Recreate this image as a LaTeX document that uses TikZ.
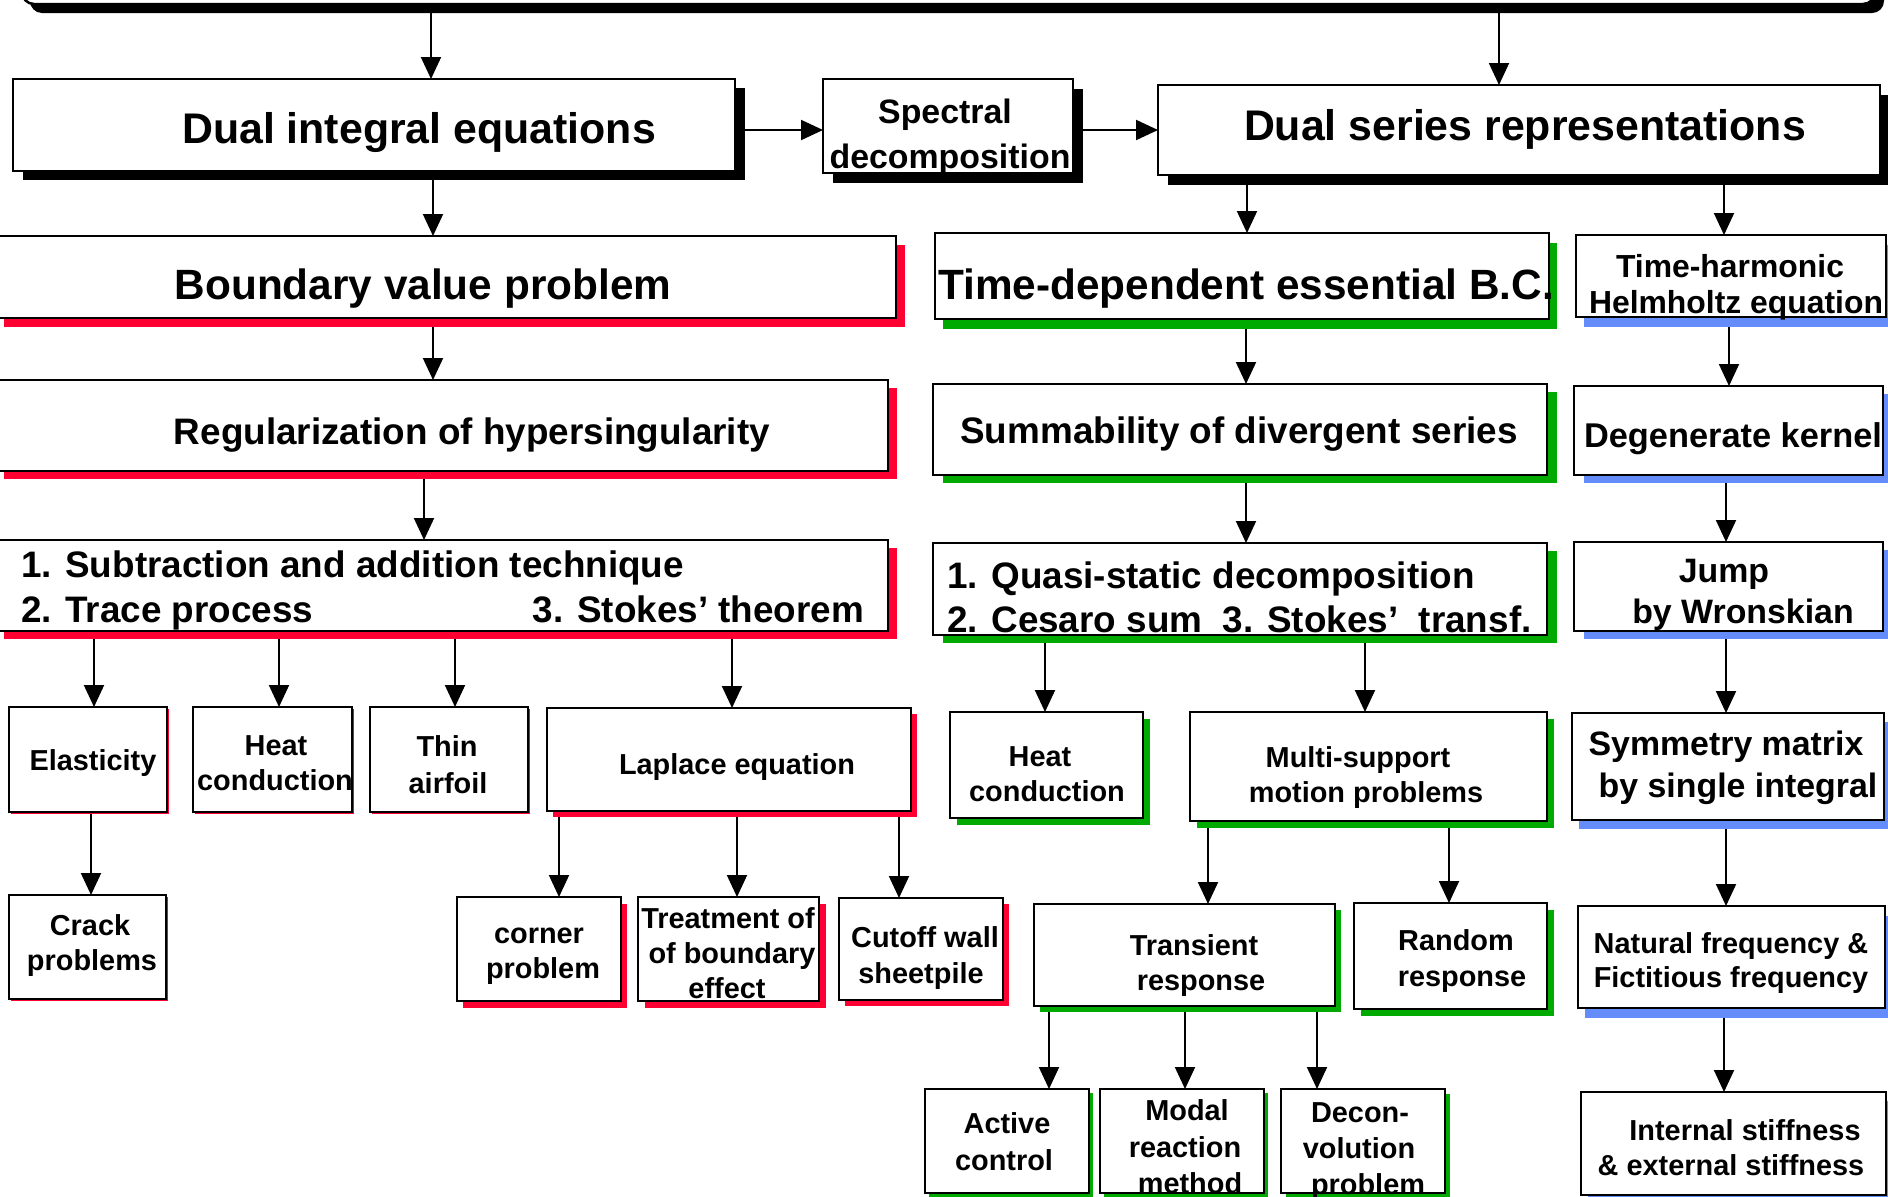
\documentclass[tikz,border=0pt]{standalone}
\usepackage{fontspec}
\setmainfont{Liberation Sans}
\usetikzlibrary{arrows.meta}
\pgfdeclarelayer{arrowlayer}
\pgfdeclarelayer{shadowlayer}
\pgfsetlayers{arrowlayer,shadowlayer,main}
\definecolor{shred}{RGB}{255,0,51}
\definecolor{shgreen}{RGB}{0,170,0}
\definecolor{shblue}{RGB}{100,140,250}
\newcommand\fsz[1]{\fontsize{#1}{#1}\selectfont\bfseries}
\newcommand\mkbox[8]{%
  \begin{pgfonlayer}{shadowlayer}
    \fill[#6] ({#2+#7},{#3+#8}) rectangle ({#4+#7},{#5+#8});
  \end{pgfonlayer}
  \node[box, minimum width={(#4-(#2))*1bp}, minimum height={(#5-(#3))*1bp}] (#1) at ({(#2+#4)/2},{(#3+#5)/2}) {};
}
\tikzset{
  box/.style={rectangle, draw=black, fill=white, line width=2.5bp, inner sep=0pt, outer sep=0pt},
  txt/.style={inner sep=0pt, outer sep=0pt, anchor=base},
  arr/.style={line width=2bp, -{Triangle[length=22bp,width=20bp]}},
}
\begin{document}
\begin{tikzpicture}[x=1bp,y=-1bp]
\useasboundingbox (0,0) rectangle (1888,1196);
% top bar
\begin{pgfonlayer}{shadowlayer}
  \fill[black, rounded corners=12bp] (30,-50) rectangle (1884,13);
\end{pgfonlayer}
\node[box, rounded corners=12bp, minimum width=1853bp, minimum height=55bp] (top) at (948.5,-23.5) {};
% boxes
\mkbox{die}{13}{79}{735}{171}{black}{10}{9}
\mkbox{spec}{823}{79}{1073}{173}{black}{10}{10}
\mkbox{dsr}{1158}{85}{1880}{175}{black}{10}{10}
\mkbox{bvp}{-5}{236}{896}{318}{shred}{9}{9}
\mkbox{reg}{-5}{380}{888}{471}{shred}{9}{8}
\mkbox{sub}{-5}{540}{888}{631}{shred}{9}{8}
\mkbox{td}{935}{233}{1549}{319}{shgreen}{8}{10}
\mkbox{helm}{1576}{235}{1886}{317}{shblue}{8}{10}
\mkbox{summ}{933}{384}{1547}{475}{shgreen}{10}{8}
\mkbox{degen}{1574}{386}{1883}{475}{shblue}{10}{8}
\mkbox{quasi}{933}{543}{1547}{635}{shgreen}{10}{8}
\mkbox{jump}{1574}{542}{1883}{631}{shblue}{10}{8}
\mkbox{elas}{9}{707}{167}{812}{shred}{2}{2}
\mkbox{heatL}{193}{707}{352}{812}{shred}{2}{2}
\mkbox{thin}{370}{707}{528}{812}{shred}{2}{2}
\mkbox{lap}{547}{708}{911}{811}{shred}{6}{6}
\mkbox{crack}{9}{895}{166}{999}{shred}{2}{2}
\mkbox{corner}{457}{897}{621}{1001}{shred}{6}{7}
\mkbox{treat}{638}{897}{819}{1001}{shred}{7}{7}
\mkbox{cutoff}{839}{898}{1003}{1000}{shred}{6}{6}
\mkbox{heatR}{950}{712}{1143}{818}{shgreen}{7}{7}
\mkbox{multi}{1190}{712}{1547}{821}{shgreen}{7}{7}
\mkbox{sym}{1572}{713}{1884}{820}{shblue}{7}{9}
\mkbox{trans}{1034}{904}{1335}{1006}{shgreen}{6}{6}
\mkbox{random}{1354}{903}{1547}{1009}{shgreen}{7}{7}
\mkbox{nat}{1578}{906}{1885}{1008}{shblue}{7}{10}
\mkbox{active}{925}{1089}{1089}{1193}{shgreen}{4}{4}
\mkbox{modal}{1100}{1089}{1264}{1193}{shgreen}{4}{4}
\mkbox{decon}{1281}{1089}{1445}{1193}{shgreen}{5}{5}
\mkbox{internal}{1581}{1092}{1886}{1195}{shblue}{7}{9}
% texts
\node[txt,font=\fsz{43}] (t1) at (419,143) {Dual integral equations};
\node[txt,font=\fsz{34}] (t2) at (945,123) {Spectral};
\node[txt,font=\fsz{34}] (t3) at (950,168) {decomposition};
\node[txt,font=\fsz{43}] (t4) at (1525,140) {Dual series representations};
\node[txt,font=\fsz{42.5}] (t5) at (423,299) {Boundary value problem};
\node[txt,font=\fsz{37}] (t6) at (472,444) {Regularization of hypersingularity};
\node[txt,font=\fsz{37},anchor=base west] (t7) at (21,577) {1. Subtraction and addition technique};
\node[txt,font=\fsz{37},anchor=base west] (t8) at (21,622) {2. Trace process};
\node[txt,font=\fsz{37},anchor=base east] (t9) at (864,622) {3. Stokes’ theorem};
\node[txt,font=\fsz{42.5}] (t10) at (1246,299) {Time-dependent essential B.C.};
\node[txt,font=\fsz{32}] (t11) at (1730,277) {Time-harmonic};
\node[txt,font=\fsz{32}] (t12) at (1736,313) {Helmholtz equation};
\node[txt,font=\fsz{37}] (t13) at (1239,443) {Summability of divergent series};
\node[txt,font=\fsz{34.5}] (t14) at (1733,447) {Degenerate kernel};
\node[txt,font=\fsz{37},anchor=base west] (t15) at (947,588) {1. Quasi-static decomposition};
\node[txt,font=\fsz{37},anchor=base west] (t16) at (947,632) {2. Cesaro sum\ \ 3. Stokes’\ \ transf.};
\node[txt,font=\fsz{34}] (t17) at (1724,582) {Jump};
\node[txt,font=\fsz{34}] (t18) at (1743,623) {by Wronskian};
\node[txt,font=\fsz{29}] (t19) at (93,770) {Elasticity};
\node[txt,font=\fsz{29}] (t20) at (276,755) {Heat};
\node[txt,font=\fsz{29}] (t21) at (275,790) {conduction};
\node[txt,font=\fsz{29}] (t22) at (447,756) {Thin};
\node[txt,font=\fsz{29}] (t23) at (448,793) {airfoil};
\node[txt,font=\fsz{29}] (t24) at (737,774) {Laplace equation};
\node[txt,font=\fsz{29}] (t25) at (90,935) {Crack};
\node[txt,font=\fsz{29}] (t26) at (92,970) {problems};
\node[txt,font=\fsz{29}] (t27) at (539,943) {corner};
\node[txt,font=\fsz{29}] (t28) at (543,978) {problem};
\node[txt,font=\fsz{29}] (t29) at (728,928) {Treatment of};
\node[txt,font=\fsz{29}] (t30) at (732,963) {of boundary};
\node[txt,font=\fsz{29}] (t31) at (727,998) {effect};
\node[txt,font=\fsz{29}] (t32) at (925,947) {Cutoff wall};
\node[txt,font=\fsz{29}] (t33) at (921,983) {sheetpile};
\node[txt,font=\fsz{29}] (t34) at (1040,766) {Heat};
\node[txt,font=\fsz{29}] (t35) at (1047,801) {conduction};
\node[txt,font=\fsz{29}] (t36) at (1358,767) {Multi-support};
\node[txt,font=\fsz{29}] (t37) at (1366,802) {motion problems};
\node[txt,font=\fsz{34}] (t38) at (1726,755) {Symmetry matrix};
\node[txt,font=\fsz{34}] (t39) at (1738,797) {by single integral};
\node[txt,font=\fsz{29}] (t40) at (1194,955) {Transient};
\node[txt,font=\fsz{29}] (t41) at (1201,990) {response};
\node[txt,font=\fsz{29}] (t42) at (1456,950) {Random};
\node[txt,font=\fsz{29}] (t43) at (1462,986) {response};
\node[txt,font=\fsz{29}] (t44) at (1731,953) {Natural frequency \&};
\node[txt,font=\fsz{29}] (t45) at (1731,987) {Fictitious frequency};
\node[txt,font=\fsz{29}] (t46) at (1007,1133) {Active};
\node[txt,font=\fsz{29}] (t47) at (1004,1170) {control};
\node[txt,font=\fsz{29}] (t48) at (1187,1120) {Modal};
\node[txt,font=\fsz{29}] (t49) at (1185,1157) {reaction};
\node[txt,font=\fsz{29}] (t50) at (1190,1193) {method};
\node[txt,font=\fsz{29}] (t51) at (1360,1122) {Decon-};
\node[txt,font=\fsz{29}] (t52) at (1359,1158) {volution};
\node[txt,font=\fsz{29}] (t53) at (1368,1194) {problem};
\node[txt,font=\fsz{29}] (t54) at (1745,1140) {Internal stiffness};
\node[txt,font=\fsz{29}] (t55) at (1731,1175) {\& external stiffness};
% arrow guide coordinates
\coordinate (ay) at (0,130);
\coordinate (xa) at (431,0);
\coordinate (xb) at (1499,0);
\coordinate (xc) at (433,0);
\coordinate (xd) at (424,0);
\coordinate (xe1) at (94,0);
\coordinate (xe2) at (279,0);
\coordinate (xe3) at (455,0);
\coordinate (xe4) at (732,0);
\coordinate (xf) at (91,0);
\coordinate (xg1) at (559,0);
\coordinate (xg2) at (737,0);
\coordinate (xg3) at (899,0);
\coordinate (xh1) at (1247,0);
\coordinate (xh2) at (1724,0);
\coordinate (xi) at (1246,0);
\coordinate (xj1) at (1729,0);
\coordinate (xj2) at (1726,0);
\coordinate (xk1) at (1045,0);
\coordinate (xk2) at (1365,0);
\coordinate (xl1) at (1208,0);
\coordinate (xl2) at (1449,0);
\coordinate (xm1) at (1049,0);
\coordinate (xm2) at (1185,0);
\coordinate (xm3) at (1317,0);
\begin{pgfonlayer}{arrowlayer}
\draw[arr] (top.south -| xa) -- (die.north -| xa);
\draw[arr] (top.south -| xb) -- (dsr.north -| xb);
\draw[arr] (die.east |- ay) -- (spec.west |- ay);
\draw[arr] (spec.east |- ay) -- (dsr.west |- ay);
\draw[arr] (die.south -| xc) -- (bvp.north -| xc);
\draw[arr] (bvp.south -| xc) -- (reg.north -| xc);
\draw[arr] (reg.south -| xd) -- (sub.north -| xd);
\draw[arr] (sub.south -| xe1) -- (elas.north -| xe1);
\draw[arr] (sub.south -| xe2) -- (heatL.north -| xe2);
\draw[arr] (sub.south -| xe3) -- (thin.north -| xe3);
\draw[arr] (sub.south -| xe4) -- (lap.north -| xe4);
\draw[arr] (elas.south -| xf) -- (crack.north -| xf);
\draw[arr] (lap.south -| xg1) -- (corner.north -| xg1);
\draw[arr] (lap.south -| xg2) -- (treat.north -| xg2);
\draw[arr] (lap.south -| xg3) -- (cutoff.north -| xg3);
\draw[arr] (dsr.south -| xh1) -- (td.north -| xh1);
\draw[arr] (dsr.south -| xh2) -- (helm.north -| xh2);
\draw[arr] (td.south -| xi) -- (summ.north -| xi);
\draw[arr] (summ.south -| xi) -- (quasi.north -| xi);
\draw[arr] (helm.south -| xj1) -- (degen.north -| xj1);
\draw[arr] (degen.south -| xj2) -- (jump.north -| xj2);
\draw[arr] (jump.south -| xj2) -- (sym.north -| xj2);
\draw[arr] (sym.south -| xj2) -- (nat.north -| xj2);
\draw[arr] (nat.south -| xh2) -- (internal.north -| xh2);
\draw[arr] (quasi.south -| xk1) -- (heatR.north -| xk1);
\draw[arr] (quasi.south -| xk2) -- (multi.north -| xk2);
\draw[arr] (multi.south -| xl1) -- (trans.north -| xl1);
\draw[arr] (multi.south -| xl2) -- (random.north -| xl2);
\draw[arr] (trans.south -| xm1) -- (active.north -| xm1);
\draw[arr] (trans.south -| xm2) -- (modal.north -| xm2);
\draw[arr] (trans.south -| xm3) -- (decon.north -| xm3);
\end{pgfonlayer}
\end{tikzpicture}
\end{document}
